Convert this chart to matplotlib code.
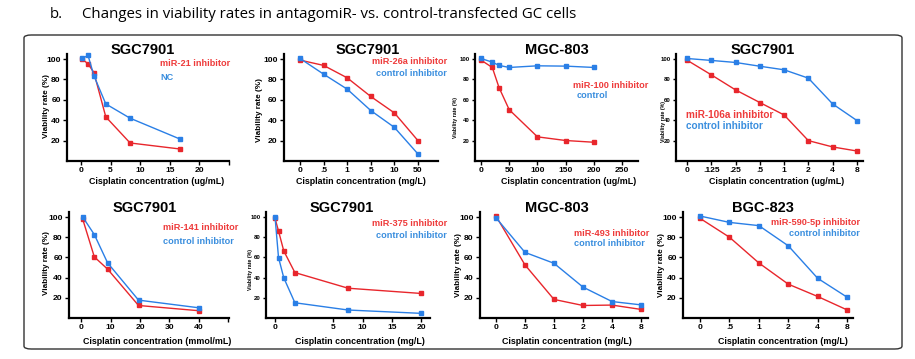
"""Viability rates of antagomiR- vs control-transfected GC cells (8 panels)."""
import numpy as np
import matplotlib
matplotlib.use("Agg")
import matplotlib.pyplot as plt
from matplotlib.patches import FancyBboxPatch

W, H = 915, 359
RED = "#e8262c"
BLUE = "#2a7fe6"
RED_TXT = "#ee3b3b"
BLUE_TXT = "#3a8ede"

# ---- data ----
p1_x = [0.2, 1.2, 2.2, 4.2, 8.3, 16.7]
p1_red = [100, 95.4, 86.6, 43.3, 17.7, 11.8]
p1_blue = [100.6, 103.6, 83.6, 56, 42, 21.6]

p2_cats = ["0", ".5", "1", "5", "10", "50"]
p2_red = [99, 93.8, 81.6, 63.3, 47.2, 20]
p2_blue = [100.6, 85.2, 70.5, 49.5, 33, 6.9]

p3_x = [0, 20, 32, 50, 100, 150, 200]
p3_red = [99, 91.8, 72, 50.3, 23.7, 20.1, 18.4]
p3_blue = [100.6, 97, 93.8, 91.8, 93.4, 93.1, 91.8]

p4_cats = ["0", ".125", ".25", ".5", "1", "2", "4", "8"]
p4_red = [99, 84.6, 69.8, 57.4, 45.2, 20, 13.8, 9.8]
p4_blue = [100.6, 98.7, 96.7, 93, 89.5, 81.3, 56, 39.7]

p5_x = [0.5, 4.5, 9, 19.5, 40]
p5_red = [98.4, 60.5, 48.4, 12.4, 7.2]
p5_blue = [100.3, 82.6, 54.6, 17.7, 10.1]

p6_x = [0, 0.3, 0.75, 1.7, 7.5, 20]
p6_red = [98.7, 86.2, 66.4, 45, 29.5, 24.3]
p6_blue = [100.3, 59.9, 39.8, 15.1, 7.9, 4.6]

p7_cats = ["0", ".5", "1", "2", "4", "8"]
p7_red = [101, 52.6, 18.4, 12.4, 12.8, 8.5]
p7_blue = [99.3, 65, 54.2, 30.6, 16.3, 13]

p8_cats = ["0", ".5", "1", "2", "4", "8"]
p8_red = [98.7, 80, 54.5, 33.5, 21.3, 8]
p8_blue = [101, 94.7, 91.5, 71.5, 39.3, 20.6]

plt.rcParams["font.family"] = ["Liberation Sans", "DejaVu Sans"]
plt.rcParams["font.weight"] = "bold"

fig = plt.figure(figsize=(W / 100, H / 100), dpi=100)


def fx(px):
    return px / W


def fy(py):
    return 1 - py / H


def make_axes(left, right, bottom, top):
    ax = fig.add_axes([fx(left), fy(bottom), (right - left) / W, (bottom - top) / H])
    for s in ("top", "right"):
        ax.spines[s].set_visible(False)
    for s in ("left", "bottom"):
        ax.spines[s].set_linewidth(1.6)
    ax.set_ylim(0, 105)
    ax.set_yticks([20, 40, 60, 80, 100])
    ax.tick_params(direction="out", length=3, width=1, pad=1.5, labelsize=6.1)
    return ax


def draw(ax, x, red, blue):
    ax.plot(x, red, color=RED, lw=1.0, marker="s", ms=3.2, clip_on=False, zorder=3)
    ax.plot(x, blue, color=BLUE, lw=1.0, marker="s", ms=3.2, clip_on=False, zorder=4)


def label(x, y, s, color, ha="left", size=6.6):
    fig.text(fx(x), fy(y), s, color=color, ha=ha, va="center", fontsize=size,
             fontweight="bold")


def title(x, y, s):
    fig.text(fx(x), fy(y), s, ha="center", va="center", fontsize=10.5, fontweight="bold")


def xlab(x, y, s):
    fig.text(fx(x), fy(y), s, ha="center", va="center", fontsize=6.4, fontweight="bold")


def ylab(x, y, s, size=5.9):
    fig.text(fx(x), fy(y), s, ha="center", va="center", rotation=90, fontsize=size,
             fontweight="bold")


def tiny_y(ax):
    ax.tick_params(axis="y", labelsize=4.3, length=2.5)


# ---- top row ----
TOP_B, TOP_T = 161, 54
ax = make_axes(67, 229, TOP_B, TOP_T)
draw(ax, p1_x, p1_red, p1_blue)
ax.set_xlim(-2.35, 24.9)
ax.set_xticks([0, 5, 10, 15, 20, 25])
ax.set_xticklabels(["0", "5", "10", "15", "20", ""])
title(143, 50, "SGC7901")
label(160, 63, "miR-21 inhibitor", RED_TXT)
label(160, 78, "NC", BLUE_TXT)
xlab(157, 182, "Cisplatin concentration (ug/mL)")
ylab(46.5, 106, "Viability rate (%)")

ax = make_axes(284, 438, TOP_B, TOP_T)
pos = np.arange(len(p2_cats))
draw(ax, pos, p2_red, p2_blue)
ax.set_xlim(-0.68, 5.85)
ax.set_xticks(pos)
ax.set_xticklabels(p2_cats)
title(368, 50, "SGC7901")
label(447, 62, "miR-26a inhibitor", RED_TXT, ha="right")
label(447, 73, "control inhibitor", BLUE_TXT, ha="right")
xlab(361, 182, "Cisplatin concentration (mg/L)")
ylab(259.5, 110, "Viability rate (%)")

ax = make_axes(475, 638, TOP_B, TOP_T)
draw(ax, p3_x, p3_red, p3_blue)
ax.set_xlim(-10.6, 278)
ax.set_xticks([0, 50, 100, 150, 200, 250])
tiny_y(ax)
title(557, 50, "MGC-803")
label(573, 85, "miR-100 inhibitor", RED_TXT)
label(577, 95, "control", BLUE_TXT)
xlab(569, 182, "Cisplatin concentration (ug/mL)")
ylab(455, 118, "Viability rate (%)", size=3.8)

ax = make_axes(676, 863, TOP_B, TOP_T)
pos = np.arange(len(p4_cats))
draw(ax, pos, p4_red, p4_blue)
ax.set_xlim(-0.45, 7.25)
ax.set_xticks(pos)
ax.set_xticklabels(p4_cats)
tiny_y(ax)
title(763, 50, "SGC7901")
label(686, 115, "miR-106a inhibitor", RED_TXT, size=7.2)
label(686, 126, "control inhibitor", BLUE_TXT, size=7.2)
xlab(777, 182, "Cisplatin concentration (ug/mL)")
ylab(663, 122, "Viability rate (%)", size=3.8)

# ---- bottom row ----
BOT_B, BOT_T = 318, 212
ax = make_axes(69, 229, BOT_B, BOT_T)
draw(ax, p5_x, p5_red, p5_blue)
ax.set_xlim(-4.1, 50.2)
ax.set_xticks([0, 10, 20, 30, 40, 50])
ax.set_xticklabels(["0", "10", "20", "30", "40", ""])
title(145, 208, "SGC7901")
label(163, 228, "miR-141 inhibitor", RED_TXT)
label(163, 242, "control inhibitor", BLUE_TXT)
xlab(157, 342, "Cisplatin concentration (mmol/mL)")
ylab(46.5, 263, "Viability rate (%)")

ax = make_axes(266, 430, BOT_B, BOT_T)
ax.set_xscale("function", functions=(lambda v: np.where(v < 5, 2 * v, v + 5),
                                     lambda v: np.where(v < 10, v / 2, v - 5)))
draw(ax, p6_x, p6_red, p6_blue)
ax.set_xlim(-0.77, 21.5)
ax.set_xticks([0, 5, 10, 15, 20])
ax.set_xticklabels(["0", "5", "10", "15", "20"])
ax.xaxis.set_minor_locator(matplotlib.ticker.NullLocator())
tiny_y(ax)
title(342, 208, "SGC7901")
label(447, 224, "miR-375 inhibitor", RED_TXT, ha="right")
label(447, 235, "control inhibitor", BLUE_TXT, ha="right")
xlab(360, 342, "Cisplatin concentration (mg/L)")
ylab(250, 270, "Viability rate (%)", size=3.8)

ax = make_axes(480, 648, BOT_B, BOT_T)
pos = np.arange(len(p7_cats))
draw(ax, pos, p7_red, p7_blue)
ax.set_xlim(-0.55, 5.24)
ax.set_xticks(pos)
ax.set_xticklabels(p7_cats)
title(557, 208, "MGC-803")
label(574, 233, "miR-493 inhibitor", RED_TXT)
label(574, 244, "control inhibitor", BLUE_TXT)
xlab(567, 342, "Cisplatin concentration (mg/L)")
ylab(458.5, 265, "Viability rate (%)")

ax = make_axes(683, 853, BOT_B, BOT_T)
pos = np.arange(len(p8_cats))
draw(ax, pos, p8_red, p8_blue)
ax.set_xlim(-0.58, 5.2)
ax.set_xticks(pos)
ax.set_xticklabels(p8_cats)
title(763, 208, "BGC-823")
label(860, 223, "miR-590-5p inhibitor", RED_TXT, ha="right")
label(860, 233, "control inhibitor", BLUE_TXT, ha="right")
xlab(783, 342, "Cisplatin concentration (mg/L)")
ylab(661.5, 265, "Viability rate (%)")

# ---- frame and heading ----
box = FancyBboxPatch((fx(24), fy(349)), fx(902) - fx(24), fy(35) - fy(349),
                     boxstyle="round,pad=0,rounding_size=0.008",
                     transform=fig.transFigure, fill=False, ec="#333333", lw=1.0)
fig.patches.append(box)
fig.text(fx(50), fy(14), "b.", fontsize=10.8, family="Open Sans", fontweight="normal",
         va="center", ha="left")
fig.text(fx(82), fy(14), "Changes in viability rates in antagomiR- vs. control-transfected GC cells",
         fontsize=10.8, family="Open Sans", fontweight="normal", va="center", ha="left")

fig.savefig("out.png", dpi=100)
